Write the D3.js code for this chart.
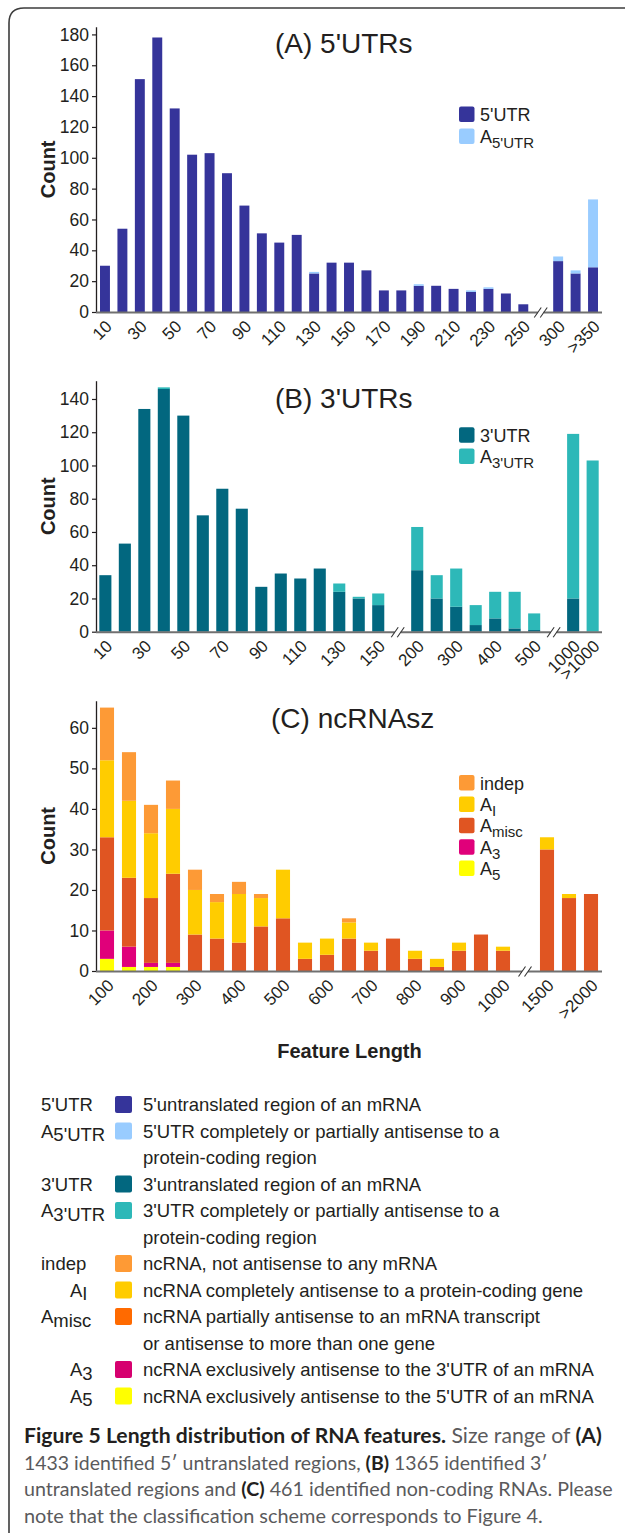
<!DOCTYPE html>
<html>
<head>
<meta charset="utf-8">
<script src="https://cdn.jsdelivr.net/npm/d3@7"></script>
<style>
  html, body { margin: 0; padding: 0; background: #ffffff; }
  svg { display: block; }
</style>
</head>
<body>
<svg id="chart" width="625" height="1533"></svg>
<script>
// ---------------- DATA ----------------
// (A) 5'UTRs
const aCategories = ["10","20","30","40","50","60","70","80","90","100","110","120","130","140","150","160","170","180","190","200","210","220","230","240","250","300","350",">350"];
const aTickLabels = ["10","30","50","70","90","110","130","150","170","190","210","230","250","300",">350"];
const aBreaksAfter = ["250"];
const a5UTR  = [30,54,151,178,132,102,103,90,69,51,45,50,25,32,32,27,14,14,17,17,15,13,15,12,5,33,25,29];
const aA5UTR = [0,0,0,0,0,0,0,0,0,0,0,0,1,0,0,0,0,0,1,0,0,1,1,0,0,3,2,44];
const aYTicks = [0,20,40,60,80,100,120,140,160,180];

// (B) 3'UTRs
const bCategories = ["10","20","30","40","50","60","70","80","90","100","110","120","130","140","150","200","250","300","350","400","450","500","1000",">1000"];
const bTickLabels = ["10","30","50","70","90","110","130","150","200","300","400","500","1000",">1000"];
const bBreaksAfter = ["150","500"];
const b3UTR  = [34,53,134,146,130,70,86,74,27,35,32,38,24,20,16,37,20,15,4,8,2,1,20,0];
const bA3UTR = [0,0,0,1,0,0,0,0,0,0,0,0,5,1,7,26,14,23,12,16,22,10,99,103];
const bYTicks = [0,20,40,60,80,100,120,140];

// (C) ncRNAsz
const cCategories = ["100","150","200","250","300","350","400","450","500","550","600","650","700","750","800","850","900","950","1000","1500","2000",">2000"];
const cTickLabels = ["100","200","300","400","500","600","700","800","900","1000","1500",">2000"];
const cBreaksAfter = ["1000"];
const cA5    = [3,1,1,1,0,0,0,0,0,0,0,0,0,0,0,0,0,0,0,0,0,0];
const cA3    = [7,5,1,1,0,0,0,0,0,0,0,0,0,0,0,0,0,0,0,0,0,0];
const cAmisc = [23,17,16,22,9,8,7,11,13,3,4,8,5,8,3,1,5,9,5,30,18,19];
const cAI    = [19,19,16,16,11,9,12,7,12,4,4,4,2,0,2,2,2,0,1,3,1,0];
const cIndep = [13,12,7,7,5,2,3,1,0,0,0,1,0,0,0,0,0,0,0,0,0,0];
const cYTicks = [0,10,20,30,40,50,60];

// Key legend
const legendMain = ["5'UTR","A","3'UTR","A","indep","A","A","A","A"];
const legendSub  = ["","5'UTR","","3'UTR","","I","misc","3","5"];
const legendDescriptions = [
  ["5'untranslated region of an mRNA"],
  ["5'UTR completely or partially antisense to a","protein-coding region"],
  ["3'untranslated region of an mRNA"],
  ["3'UTR completely or partially antisense to a","protein-coding region"],
  ["ncRNA, not antisense to any mRNA"],
  ["ncRNA completely antisense to a protein-coding gene"],
  ["ncRNA partially antisense to an mRNA transcript","or antisense to more than one gene"],
  ["ncRNA exclusively antisense to the 3'UTR of an mRNA"],
  ["ncRNA exclusively antisense to the 5'UTR of an mRNA"]
];

// Caption
const captionLines = [
  [["Figure 5 Length distribution of RNA features.", true], [" Size range of ", false], ["(A)", true]],
  [["1433 identified 5\u2032 untranslated regions, ", false], ["(B)", true], [" 1365 identified 3\u2032", false]],
  [["untranslated regions and ", false], ["(C)", true], [" 461 identified non-coding RNAs. Please", false]],
  [["note that the classification scheme corresponds to Figure 4.", false]]
];

// ---------------- STYLE / LAYOUT ----------------
const FONT = "'Liberation Sans', Arial, Helvetica, sans-serif";
const CAPFONT = "Lato, 'Open Sans', 'Noto Sans', sans-serif";
const INK = "#231f20";
const X0 = 96, X1 = 602;

const colors = {
  "5'UTR": "#35349a", "A5'UTR": "#99ccff",
  "3'UTR": "#02677f", "A3'UTR": "#2db8b8",
  "indep": "#fd9a36", "AI": "#ffcc00", "Amisc": "#e05522", "A3": "#e0007a", "A5": "#ffff00"
};
const keyColors = ["#35349a","#99ccff","#02677f","#2db8b8","#fe9a35","#ffcc00","#ff6a00","#d6006f","#ffff00"];

const svg = d3.select("#chart");

// frame
svg.append("path")
  .attr("d", "M9,1533 V23 Q9,8 24,8 H625")
  .attr("fill", "none").attr("stroke", "#3c3c3c").attr("stroke-width", 1.6);

const panels = [
  {
    title: "(A) 5'UTRs", titleX: 275, titleY: 53,
    categories: aCategories, ticks: aTickLabels, breaks: aBreaksAfter, yTicks: aYTicks,
    yMax: 185, y0: 312, yTop: 26.7, padIn: 0.43, padOut: 0.23,
    series: [{key: "5'UTR", values: a5UTR}, {key: "A5'UTR", values: aA5UTR}],
    legend: [{key: "5'UTR", main: "5'UTR", sub: ""}, {key: "A5'UTR", main: "A", sub: "5'UTR"}],
    legTop: 106.5, legStep: 22
  },
  {
    title: "(B) 3'UTRs", titleX: 275, titleY: 408,
    categories: bCategories, ticks: bTickLabels, breaks: bBreaksAfter, yTicks: bYTicks,
    yMax: 151, y0: 631.7, yTop: 380.7, padIn: 0.38, padOut: 0.17,
    series: [{key: "3'UTR", values: b3UTR}, {key: "A3'UTR", values: bA3UTR}],
    legend: [{key: "3'UTR", main: "3'UTR", sub: ""}, {key: "A3'UTR", main: "A", sub: "3'UTR"}],
    legTop: 427.3, legStep: 21.2
  },
  {
    title: "(C) ncRNAsz", titleX: 271, titleY: 728,
    categories: cCategories, ticks: cTickLabels, breaks: cBreaksAfter, yTicks: cYTicks,
    yMax: 66.7, y0: 971, yTop: 700.7, padIn: 0.36, padOut: 0.18,
    series: [{key: "A5", values: cA5}, {key: "A3", values: cA3}, {key: "Amisc", values: cAmisc},
             {key: "AI", values: cAI}, {key: "indep", values: cIndep}],
    legend: [{key: "indep", main: "indep", sub: ""}, {key: "AI", main: "A", sub: "I"},
             {key: "Amisc", main: "A", sub: "misc"}, {key: "A3", main: "A", sub: "3"}, {key: "A5", main: "A", sub: "5"}],
    legTop: 775, legStep: 21.4
  }
];

function drawPanel(p) {
  const g = svg.append("g").attr("font-family", FONT).attr("fill", INK);
  const slots = [];
  p.categories.forEach(c => { slots.push(c); if (p.breaks.includes(c)) slots.push("gap:" + c); });
  const x = d3.scaleBand().domain(slots).range([X0, X1]).paddingInner(p.padIn).paddingOuter(p.padOut);
  const y = d3.scaleLinear().domain([0, p.yMax]).range([p.y0, p.yTop]);

  const rows = p.categories.map((c, i) => {
    const r = {cat: c};
    p.series.forEach(s => { r[s.key] = s.values[i]; });
    return r;
  });
  const stacked = d3.stack().keys(p.series.map(s => s.key))(rows);

  g.selectAll("g.layer").data(stacked).join("g")
    .attr("class", "layer")
    .attr("fill", d => colors[d.key])
    .selectAll("rect").data(d => d.filter(v => v[1] > v[0])).join("rect")
    .attr("x", d => x(d.data.cat))
    .attr("width", x.bandwidth())
    .attr("y", d => y(d[1]))
    .attr("height", d => y(d[0]) - y(d[1]));

  // y axis
  const ya = g.append("g").attr("transform", `translate(${X0},0)`)
    .call(d3.axisLeft(y).tickValues(p.yTicks).tickSize(4).tickSizeOuter(0).tickPadding(3));
  ya.attr("font-family", FONT).attr("font-size", 17.5);
  ya.select(".domain").attr("stroke", INK).attr("stroke-width", 1.3);
  ya.selectAll(".tick line").attr("stroke", INK).attr("stroke-width", 1.2);
  ya.selectAll(".tick text").attr("fill", INK);

  // x axis baseline with breaks
  const bw = x.bandwidth();
  const gapCenters = slots.filter(s => s.startsWith("gap:")).map(s => x(s) + bw / 2);
  const segs = [];
  let start = X0;
  gapCenters.forEach(cx => { segs.push([start, cx - 3]); start = cx + 3; });
  segs.push([start, X1]);
  g.selectAll("line.xaxis").data(segs).join("line")
    .attr("class", "xaxis")
    .attr("x1", d => d[0]).attr("x2", d => d[1])
    .attr("y1", p.y0 + 0.5).attr("y2", p.y0 + 0.5)
    .attr("stroke", "#707070").attr("stroke-width", 2);
  gapCenters.forEach(cx => {
    [-3, 3].forEach(o => {
      g.append("line")
        .attr("x1", cx + o - 3.5).attr("y1", p.y0 + 5.5)
        .attr("x2", cx + o + 3.5).attr("y2", p.y0 - 4.5)
        .attr("stroke", "#333").attr("stroke-width", 1.1);
    });
  });

  // x tick labels
  g.selectAll("text.xt").data(p.ticks).join("text")
    .attr("class", "xt")
    .attr("transform", d => `translate(${x(d) + bw / 2 + 8},${p.y0 + 15.5}) rotate(-45)`)
    .attr("text-anchor", "end")
    .attr("font-size", 17)
    .text(d => d);

  // y label
  g.append("text")
    .attr("transform", `translate(55,${(p.y0 + p.yTop) / 2}) rotate(-90)`)
    .attr("text-anchor", "middle")
    .attr("font-size", 20).attr("font-weight", "bold")
    .text("Count");

  // title
  g.append("text")
    .attr("x", p.titleX).attr("y", p.titleY)
    .attr("font-size", 28)
    .text(p.title);

  // legend
  p.legend.forEach((item, i) => {
    const ty = p.legTop + i * p.legStep;
    g.append("rect").attr("x", 459).attr("y", ty).attr("width", 15.5).attr("height", 15.5)
      .attr("rx", 2).attr("fill", colors[item.key]);
    const t = g.append("text").attr("x", 480).attr("y", ty + 14.5).attr("font-size", 18);
    t.append("tspan").text(item.main);
    if (item.sub) t.append("tspan").attr("font-size", 15).attr("dy", 5).text(item.sub);
  });
}

panels.forEach(drawPanel);

// x title
svg.append("text")
  .attr("x", 349.5).attr("y", 1058)
  .attr("text-anchor", "middle")
  .attr("font-family", FONT).attr("font-size", 20).attr("font-weight", "bold").attr("fill", INK)
  .text("Feature Length");

// key legend
const key = svg.append("g").attr("font-family", FONT).attr("fill", INK).attr("font-size", 18.5);
let lineY = 1111;
legendMain.forEach((m, i) => {
  const sub = legendSub[i];
  const lx = (sub.length === 1) ? 70 : 41;
  const t = key.append("text").attr("x", lx).attr("y", lineY);
  t.append("tspan").text(m);
  if (sub) t.append("tspan").attr("dy", 3.5).text(sub);
  key.append("rect").attr("x", 115).attr("y", lineY - 15).attr("width", 17).attr("height", 17)
    .attr("rx", 2).attr("fill", keyColors[i]);
  legendDescriptions[i].forEach((line, j) => {
    key.append("text").attr("x", 143).attr("y", lineY + j * 26.5).text(line);
  });
  lineY += legendDescriptions[i].length * 26.5;
});

// caption
const capTargets = [578, 524, 589, 519];
captionLines.forEach((parts, i) => {
  const t = svg.append("text")
    .attr("x", 24).attr("y", 1443 + i * 26.6)
    .attr("font-family", CAPFONT).attr("font-size", 20);
  parts.forEach(([txt, bold]) => {
    t.append("tspan")
      .attr("font-weight", bold ? "bold" : "normal")
      .attr("fill", bold ? "#231f20" : "#5a5a5c")
      .text(txt);
  });
  const len = t.node().getComputedTextLength();
  if (len > 0) t.attr("font-size", 20 * capTargets[i] / len);
});
</script>
</body>
</html>
